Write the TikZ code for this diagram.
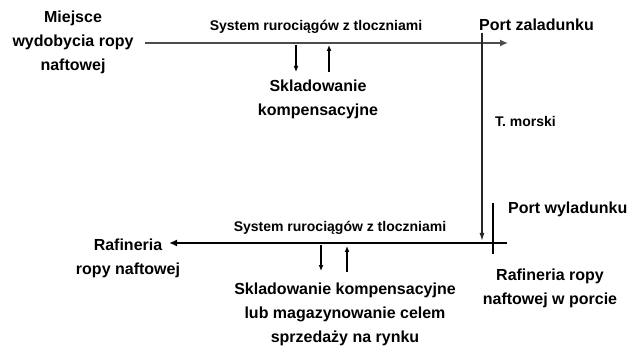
\documentclass[tikz,border=0pt]{standalone}
\usepackage{fontspec}
\setmainfont{Liberation Sans}
\usetikzlibrary{arrows.meta}
\begin{document}
\begin{tikzpicture}[x=1pt,y=-1pt,
  lbl/.style={font=\bfseries\fontsize{16}{24}\selectfont, align=center, inner sep=0pt},
  sml/.style={font=\bfseries\fontsize{14}{18}\selectfont, inner sep=0pt},
  pipe/.style={line width=2.4pt},
  flow/.style={line width=1.6pt, -{Latex[length=6pt,width=5pt]}},
  thin/.style={line width=1.4pt}]
\useasboundingbox (0,0) rectangle (642,347);

% place names
\node[lbl] (src) at (73,42) {Miejsce\\wydobycia ropy\\naftowej};
\node[lbl, anchor=west] (pz) at (479,25) {Port zaladunku};
\node[sml, anchor=west] (tm) at (495,121) {T. morski};
\node[lbl, anchor=west] (pw) at (508,209) {Port wyladunku};
\node[lbl] (raf) at (128,258) {Rafineria\\ropy naftowej};
\node[lbl] (rafp) at (550,288) {Rafineria ropy\\naftowej w porcie};

% pipeline captions
\node[sml] (sys1) at (316,27) {System rurociągów z tloczniami};
\node[sml] (sys2) at (340,228) {System rurociągów z tloczniami};

% storage captions
\node[lbl] (sk1) at (318,99) {Skladowanie\\kompensacyjne};
\node[lbl] (sk2) at (345,314) {Skladowanie kompensacyjne\\lub magazynowanie celem\\sprzedaży na rynku};

% line end points
\coordinate (t0) at (145,43);
\coordinate (t1) at (508,43);
\coordinate (v0) at (482,33);
\coordinate (v1) at (482,241);
\coordinate (b0) at (507,243);
\coordinate (b1) at (169,243);
\coordinate (w0) at (493,203);
\coordinate (w1) at (493,254);
\coordinate (a1s) at (296,45);  \coordinate (a1e) at (296,72);
\coordinate (a2s) at (329,72);  \coordinate (a2e) at (329,45);
\coordinate (a3s) at (321,245); \coordinate (a3e) at (321,271);
\coordinate (a4s) at (347,272); \coordinate (a4e) at (347,246);

% pipelines
\draw[pipe, black!70, -{Latex[length=8pt,width=7pt]}] (t0) -- (t1);
\draw[pipe, -{Latex[length=8pt,width=7pt]}] (b0) -- (b1);

% sea transport
\draw[thin, black!85, -{Latex[length=8pt,width=5pt]}] (v0) -- (v1);
\draw[thin] (w0) -- (w1);

% storage flows
\draw[flow] (a1s) -- (a1e);
\draw[flow] (a2s) -- (a2e);
\draw[flow] (a3s) -- (a3e);
\draw[flow] (a4s) -- (a4e);
\end{tikzpicture}
\end{document}
